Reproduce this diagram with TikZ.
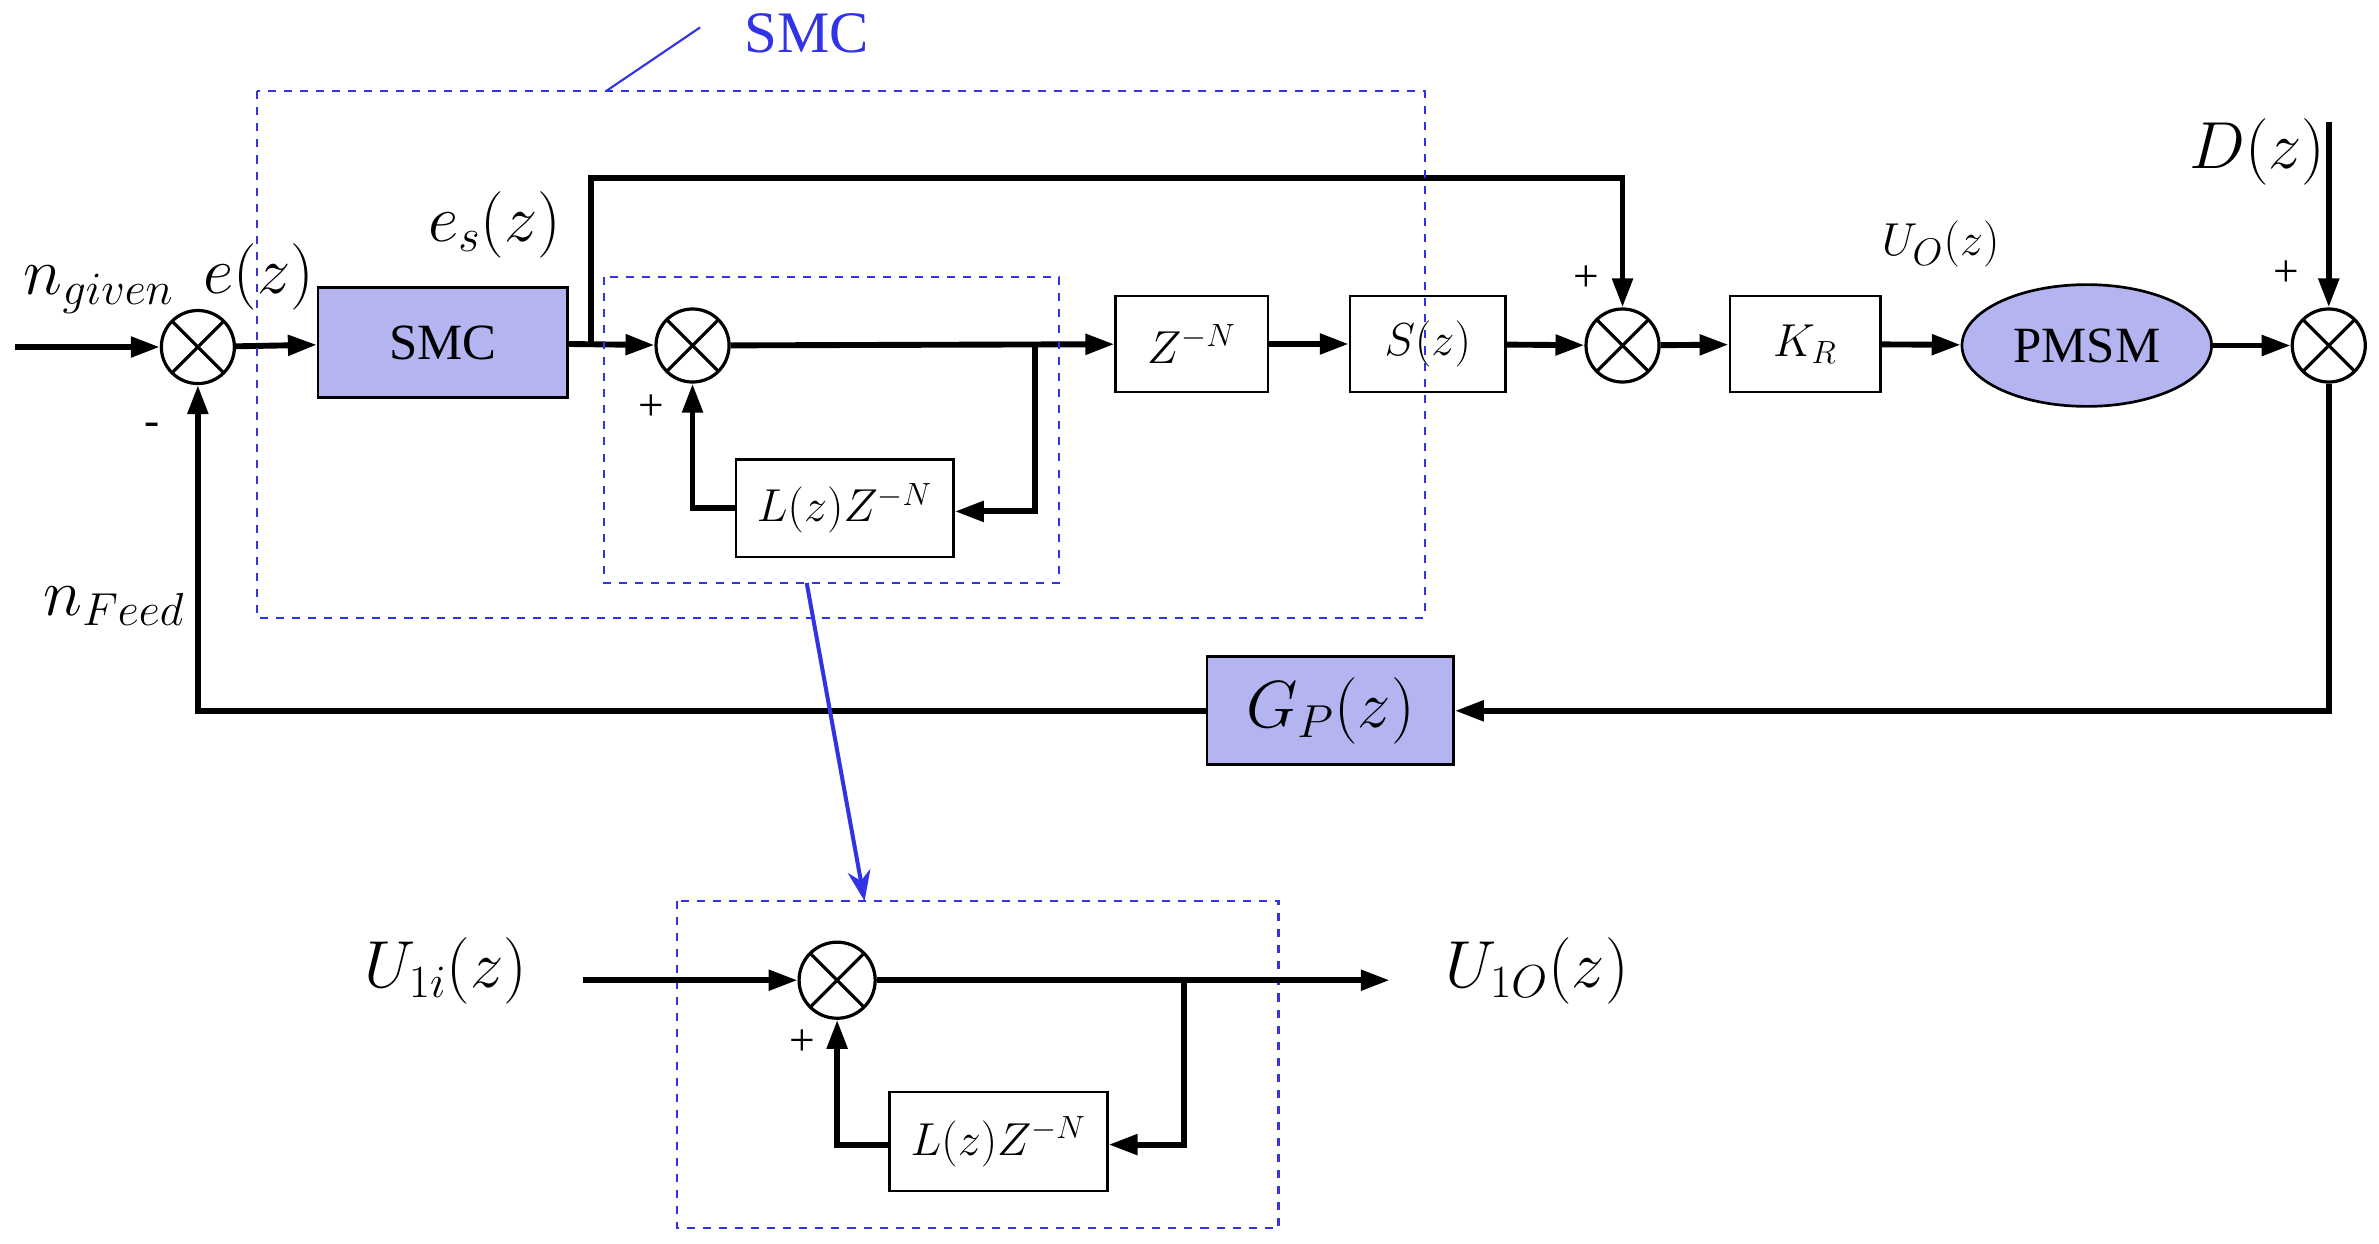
\documentclass[tikz,border=0pt]{standalone}
\usepackage{fontspec}
\setmainfont{Liberation Serif}
\usetikzlibrary{arrows.meta,shapes.geometric}
\definecolor{lav}{RGB}{180,180,240}
\definecolor{dblue}{RGB}{50,50,230}
\begin{document}
\begin{tikzpicture}[x=0.02cm,y=-0.02cm,
 ln/.style={line width=2.2pt},
 ar/.style={ln,-{Triangle[length=0.38cm,width=0.26cm]}},
 sum/.style={circle,draw,line width=1.2pt,minimum size=0.96cm,inner sep=0pt,
   path picture={\draw[line width=1.2pt] (path picture bounding box.north west)--(path picture bounding box.south east)
   (path picture bounding box.north east)--(path picture bounding box.south west);}},
 blk/.style={draw,line width=1pt,inner sep=0pt,font=\fontsize{17}{20}\selectfont},
 dbox/.style={draw=dblue,dashed,line width=0.8pt},
 lab/.style={font=\fontsize{23}{26}\selectfont},
 pl/.style={font=\fontsize{17}{20}\selectfont}]
\useasboundingbox (0,0) rectangle (1563,817);
% nodes
\coordinate (in) at (10,228);
\node[sum] (s1) at (130,228) {};
\node[blk,fill=lav,minimum width=3.28cm,minimum height=1.44cm,font=\fontsize{19}{22}\selectfont] (smc) at (291,225) {SMC};
\node[sum] (s2) at (455,227) {};
\node[blk,minimum width=2cm,minimum height=1.26cm] (zn) at (783,226) {$Z^{-N}$};
\node[blk,minimum width=2.04cm,minimum height=1.26cm] (sz) at (938,226) {$S(z)$};
\node[sum] (s3) at (1066,227) {};
\node[blk,minimum width=1.98cm,minimum height=1.26cm] (kr) at (1186,226) {$K_R$};
\node[ellipse,draw,fill=lav,line width=1pt,minimum width=3.28cm,minimum height=1.6cm,font=\fontsize{19}{22}\selectfont] (pm) at (1371,227) {PMSM};
\node[sum] (s4) at (1530,227) {};
\node[blk,minimum width=2.86cm,minimum height=1.28cm] (lz) at (555,334) {$L(z)Z^{-N}$};
\node[blk,fill=lav,minimum width=3.24cm,minimum height=1.42cm,font=\fontsize{23}{26}\selectfont] (gp) at (874,467) {$G_P(z)$};
\coordinate (dtop) at (1530,80);
\coordinate (br1) at (388,227);
\coordinate (br1u) at (388,117);
\coordinate (s3u) at (1066,117);
\coordinate (br2) at (680,227);
\coordinate (br2d) at (680,336);
\coordinate (lzl) at (455,334);
\coordinate (s4d) at (1530,467);
\coordinate (s1d) at (130,467);
% connectors
\draw[ar] (in) -- (s1);
\draw[ar] (s1) -- (smc);
\draw[ar] (smc) -- (s2);
\draw[ar] (br1) -- (br1u) -- (s3u) -- (s3);
\draw[ar] (s2) -- (zn);
\draw[ar] (br2) -- (br2d) -- (lz.east |- br2d);
\draw[ar] (lz.west) -- (lzl) -- (s2);
\draw[ar] (zn) -- (sz);
\draw[ar] (sz) -- (s3);
\draw[ar] (s3) -- (kr);
\draw[ar] (kr) -- (pm);
\draw[ar] (pm) -- (s4);
\draw[ar] (dtop) -- (s4);
\draw[ar] (s4) -- (s4d) -- (gp);
\draw[ar] (gp) -- (s1d) -- (s1);
% labels
\node[lab] (l1) at (65,190) {$n_{given}$};
\node[lab] (l2) at (170,182) {$e(z)$};
\node[lab] (l3) at (325,148) {$e_s(z)$};
\node[lab,font=\fontsize{19}{22}\selectfont] (l4) at (1275,160) {$U_O(z)$};
\node[lab] (l5) at (1483,100) {$D(z)$};
\node[lab] (l6) at (75,398) {$n_{Feed}$};
\node[pl] at (100,282) {-};
\node[pl] at (428,268) {+};
\node[pl] at (1042,183) {+};
\node[pl] at (1502,180) {+};
% dashed boxes
\draw[dbox] (169,60) rectangle (936,406);
\draw[dbox] (397,182) rectangle (696,383);
\coordinate (sl1) at (398,60);
\coordinate (sl2) at (460,18);
\draw[dblue,line width=0.8pt] (sl1) -- (sl2);
\node[text=dblue,font=\fontsize{22}{25}\selectfont] (smct) at (530,22) {SMC};
\coordinate (ba1) at (530,383);
\coordinate (ba2) at (568,592);
\draw[dblue,line width=1.5pt,-{Stealth[length=0.4cm,width=0.3cm]}] (ba1) -- (ba2);
% bottom
\draw[dbox] (445,592) rectangle (840,807);
\node[lab] (u1) at (293,638) {$U_{1i}(z)$};
\node[lab] (u2) at (1010,638) {$U_{1O}(z)$};
\coordinate (bin) at (383,644);
\coordinate (bout) at (913,644);
\node[sum,minimum size=1cm] (s5) at (550,644) {};
\node[blk,minimum width=2.86cm,minimum height=1.3cm] (lz2) at (656,750) {$L(z)Z^{-N}$};
\coordinate (br3) at (778,644);
\coordinate (br3d) at (778,752);
\coordinate (lz2l) at (550,752);
\draw[ar] (bin) -- (s5);
\draw[ar] (s5) -- (bout);
\draw[ar] (br3) -- (br3d) -- (lz2.east |- br3d);
\draw[ar] (lz2.west |- lz2l) -- (lz2l) -- (s5);
\node[pl] at (527,685) {+};
\end{tikzpicture}
\end{document}
